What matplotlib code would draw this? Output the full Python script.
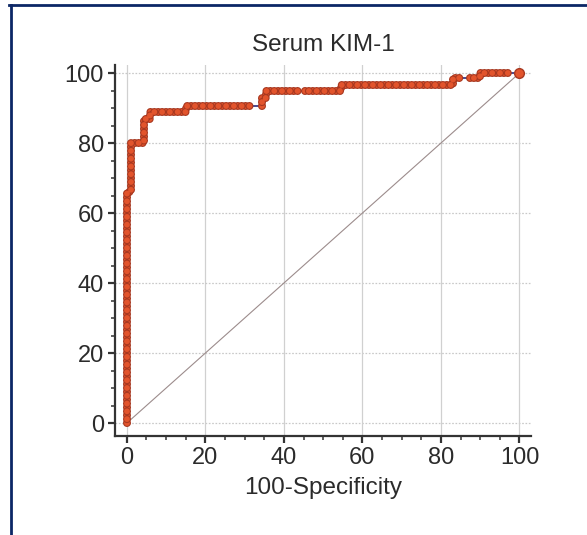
import matplotlib
matplotlib.use("Agg")
import matplotlib.pyplot as plt
from matplotlib.lines import Line2D
from matplotlib.ticker import MultipleLocator
import numpy as np

# ROC step curve for serum KIM-1.
# Each piece is a run of operating points; between pieces only the line shows.
pieces_fpr = [
    [0, 0, 1, 1, 4.5, 4.5, 6, 6, 15, 15, 32.2],
    [34.5, 34.5, 35.5, 35.5, 43.7],
    [45.5, 54.5, 54.5, 83, 83, 85],
    [87.5, 90, 90, 97],
    [100],
]
pieces_tpr = [
    [0, 66, 66, 80, 80, 87, 87, 89, 89, 90.5, 90.5],
    [90.5, 93, 93, 95, 95],
    [95, 95, 96.7, 96.7, 98.5, 98.5],
    [98.5, 98.5, 100, 100],
    [100],
]
ref_line = [0, 100]
ticks = [0, 20, 40, 60, 80, 100]

title = "Serum KIM-1"
xlabel = "100-Specificity"

plt.rcParams["font.family"] = ["Liberation Sans", "DejaVu Sans"]
plt.rcParams["lines.scale_dashes"] = False

text_color = "#2b2b2b"
fill_color = "#e2542c"
edge_color = "#a83820"
line_color = "#4b4a8c"

fig = plt.figure(figsize=(5.87, 5.35), dpi=100)
ax = fig.add_axes([0.196, 0.185, 0.709, 0.6935])

# grid: vertical solid, horizontal dotted
for t in ticks:
    ax.axvline(t, color="#d0d0d0", lw=0.9, zorder=0)
    ax.axhline(t, color="#c8c8c8", lw=0.9, ls=(0, (1.2, 1.2)), zorder=0)

# diagonal reference
ax.plot(ref_line, ref_line, color="#9c8c8c", lw=0.8, zorder=1)

# connecting line through all points
all_x = np.concatenate(pieces_fpr)
all_y = np.concatenate(pieces_tpr)
ax.plot(all_x, all_y, color=line_color, lw=1.4, zorder=2)

# dense circle markers along each piece (round-capped dots),
# two interleaved passes so neighbouring circles show their rims
step = 2.8
for xs, ys in zip(pieces_fpr, pieces_tpr):
    if len(xs) == 1:
        ax.plot(xs, ys, marker="o", ms=7, mfc=fill_color, mec=edge_color,
                mew=1.0, ls="none", zorder=5)
        continue
    for k, offset in enumerate([0, step]):
        dots = (offset, (0.01, 2 * step - 0.01))
        ax.plot(xs, ys, color=edge_color, lw=5.8, ls=dots,
                dash_capstyle="round", zorder=3 + 2 * k)
        ax.plot(xs, ys, color=fill_color, lw=4.2, ls=dots,
                dash_capstyle="round", zorder=4 + 2 * k)

ax.set_xlim(-3, 103)
ax.set_ylim(-3.7, 102.3)
ax.set_xticks(ticks)
ax.set_yticks(ticks)
ax.xaxis.set_minor_locator(MultipleLocator(5))
ax.yaxis.set_minor_locator(MultipleLocator(5))

for side in ["top", "right"]:
    ax.spines[side].set_visible(False)
for side in ["left", "bottom"]:
    ax.spines[side].set_color("#333333")
    ax.spines[side].set_linewidth(1.6)

ax.tick_params(which="major", direction="out", length=5, width=1.6,
               color="#333333", labelsize=17, labelcolor=text_color, pad=3)
ax.tick_params(which="minor", direction="out", length=3, width=1.1,
               color="#333333")

ax.set_title(title, fontsize=17.5, color=text_color, pad=10)
ax.set_xlabel(xlabel, fontsize=17.5, color=text_color, labelpad=6)

# dark frame on top and left edges
fig.add_artist(Line2D([0.0153, 1.0], [0.9907, 0.9907], color="#0c2766",
                      lw=2.0, transform=fig.transFigure))
fig.add_artist(Line2D([0.0179, 0.0179], [0.0, 0.9907], color="#0c2766",
                      lw=2.0, transform=fig.transFigure))

fig.savefig("out.png", dpi=100)
